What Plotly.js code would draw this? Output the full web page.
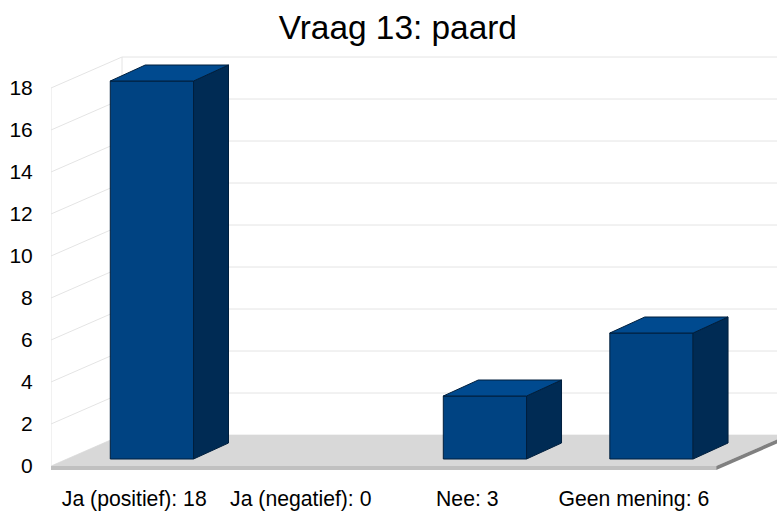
<!DOCTYPE html>
<html><head><meta charset="utf-8">
<script src="https://cdn.plot.ly/plotly-3.0.1.min.js"></script>
<style>html,body{margin:0;padding:0;background:#fff}</style></head>
<body><div id="chart" style="width:777px;height:516px"></div>
<script>
const categories = ["Ja (positief): 18","Ja (negatief): 0","Nee: 3","Geen mening: 6"];
const values = [18,0,3,6];
const yTicks = [0,2,4,6,8,10,12,14,16,18];

const DX = 0.4264, DY = 1.476;      // chart depth in data units
const BX = 0.106, BY = 0.333;       // bar inset from the front plane
const BDX = 0.21, BDY = 0.762;      // bar depth
const BW = 0.5;
const SLAB = 0.19;
const XL = -0.5, XR = 3.495, XMAX = 3.86;
const poly = p => 'M' + p.map(q => q[0] + ',' + q[1]).join(' L') + ' Z';
const GRID = '#e4e4e4';

const shapes = [];
const path = (p, fill, lc, lw) => shapes.push({type:'path', layer:'below', xref:'x', yref:'y', path:poly(p), fillcolor:fill, line:{color:lc||fill, width:lw===undefined?0:lw}});
const seg = (x0,y0,x1,y1,c) => shapes.push({type:'line', layer:'below', xref:'x', yref:'y', x0,y0,x1,y1, line:{color:c||GRID, width:1}});

// walls
seg(XL,0,XL,18);
seg(XL+DX,DY,XL+DX,18+DY);
yTicks.forEach(v => { seg(XL,v,XL+DX,v+DY); seg(XL+DX,v+DY,XMAX,v+DY); });
// floor
path([[XL,0],[XL+DX,DY],[XMAX+0.2,DY],[XR+DX,DY],[XR,0]], '#d8d8d8');
path([[XL,-SLAB],[XL,0],[XR,0],[XR,-SLAB]], '#c0c0c0');
path([[XR,-SLAB],[XR,0],[XR+DX,DY],[XR+DX,DY-SLAB]], '#808080');

const xF = [], yF = [], baseF = [], widths = [], lineW = [], sideX = [], sideY = [], topX = [], topY = [];
values.forEach((v,i) => {
  const x0 = i + BX - BW/2, x1 = x0 + BW, b = BY, t = BY + v;
  xF.push(i + BX); yF.push(v); baseF.push(BY); widths.push(BW); lineW.push(v > 0 ? 1 : 0);
  if (v > 0) {
    sideX.push(x1, x1+BDX, x1+BDX, x1, x1, null);
    sideY.push(b, b+BDY, t+BDY, t, b, null);
    topX.push(x0, x1, x1+BDX, x0+BDX, x0, null);
    topY.push(t, t, t+BDY, t+BDY, t, null);
  }
});

const data = [
  {type:'bar', x:xF, y:yF, base:baseF, width:widths, marker:{color:'#004382', line:{color:'#001f3d', width:lineW}}, hoverinfo:'skip', showlegend:false},
  {type:'scatter', mode:'lines', x:sideX, y:sideY, fill:'toself', fillcolor:'#002b54', line:{color:'#001f3d', width:1}, hoverinfo:'skip', showlegend:false},
  {type:'scatter', mode:'lines', x:topX, y:topY, fill:'toself', fillcolor:'#004a8f', line:{color:'#001f3d', width:1}, hoverinfo:'skip', showlegend:false}
];

const FONT = 'Liberation Sans, Arial, sans-serif';
const layout = {
  width:777, height:516, paper_bgcolor:'#fff', plot_bgcolor:'#fff',
  margin:{l:51, r:0, t:50, b:41, pad:0},
  showlegend:false,
  title:{text:'Vraag 13: paard', font:{family:FONT, size:33.4, color:'#000'}, x:0.512, xanchor:'center', y:0.948, yanchor:'middle'},
  xaxis:{range:[XL,XMAX], tickmode:'array', tickvals:[0,1,2,3], ticktext:categories, showgrid:false, zeroline:false, showline:false,
    ticks:'outside', ticklen:5, tickcolor:'rgba(0,0,0,0)', tickfont:{family:FONT, size:21.2, color:'#000'}, fixedrange:true},
  yaxis:{range:[-9/21,416/21], tickmode:'array', tickvals:yTicks, ticktext:yTicks.map(String), showgrid:false, zeroline:false, showline:false,
    ticks:'outside', ticklen:13, tickcolor:'rgba(0,0,0,0)', tickfont:{family:FONT, size:21, color:'#000'}, fixedrange:true},
  shapes
};
Plotly.newPlot('chart', data, layout, {displayModeBar:false, staticPlot:true});
</script></body></html>
